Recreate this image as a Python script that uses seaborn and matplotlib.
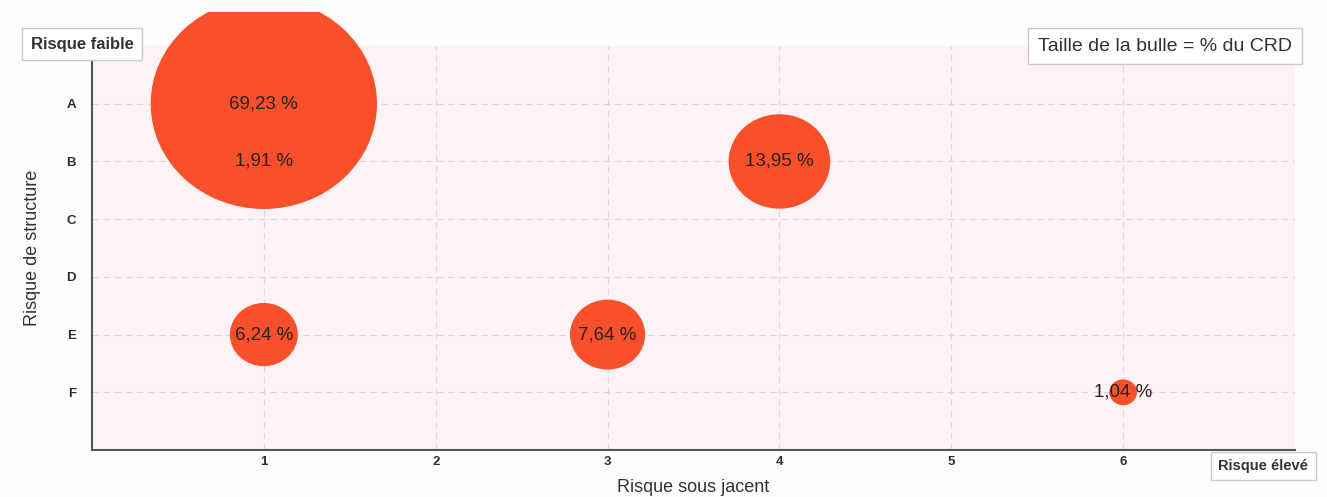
import matplotlib
matplotlib.use("Agg")
import matplotlib.pyplot as plt
import matplotlib.path as mpath
from matplotlib.patches import Rectangle
import seaborn as sns
import pandas as pd
import numpy as np

# ---- data ----
y_categories = ["A", "B", "C", "D", "E", "F"]
x_ticks = [1, 2, 3, 4, 5, 6]
sous_jacent = [1, 1, 4, 3, 1, 6]          # x: Risque sous jacent
structure = ["A", "B", "B", "E", "E", "F"]  # y: Risque de structure
crd_pct = [69.23, 1.91, 13.95, 7.64, 6.24, 1.04]

df = pd.DataFrame({
    "x": sous_jacent,
    "y": [y_categories.index(c) + 1 for c in structure],
    "v": crd_pct,
})
df["label"] = [f"{v:.2f}".replace(".", ",") + " %" for v in df["v"]]

sns.set_style("white")
plt.rcParams["font.family"] = ["Liberation Sans", "DejaVu Sans"]

fig = plt.figure(figsize=(13.27, 4.97), dpi=100, facecolor="#fefcfc")
ax = fig.add_axes([0.0693, 0.0946, 0.9066, 0.8128])
ax.set_facecolor("#fdf3f5")

# slightly elliptical bubble marker
circ = mpath.Path.unit_circle()
ell = mpath.Path(circ.vertices * np.array([1.0, 0.93]), circ.codes)

smax = 383.5 * max(crd_pct)
sns.scatterplot(data=df, x="x", y="y", size="v", sizes=(0, smax),
                size_norm=(0, max(crd_pct)), marker=ell, color="#f9502c",
                edgecolor="none", linewidth=0, alpha=1, legend=False, ax=ax,
                zorder=3)
clip_rect = Rectangle((0, 0), 1, 485 / 497, transform=fig.transFigure)
for c in ax.collections:
    c.set_clip_path(clip_rect)

for _, r in df.iterrows():
    ax.text(r["x"], r["y"], r["label"], ha="center", va="center",
            fontsize=13.5, color="#2b2020", zorder=5)

ax.set_xlim(0, 7)
ax.set_ylim(7, 0)
ax.set_xticks(x_ticks)
ax.set_xticklabels([str(t) for t in x_ticks], fontsize=9.5, fontweight="bold",
                   color="#2e2e2e")
ax.set_yticks(range(1, len(y_categories) + 1))
ax.set_yticklabels(y_categories, fontsize=9.5, fontweight="bold", color="#2e2e2e")
ax.tick_params(axis="x", length=0, pad=4)
ax.tick_params(axis="y", length=0, pad=11.5)

for t in x_ticks + [7]:
    ax.axvline(t, color="#dcd6da", lw=0.8, ls=(0, (6, 4)), zorder=1)
for t in range(1, 7):
    ax.axhline(t, color="#dcd6da", lw=0.8, ls=(0, (6, 4)), zorder=1)

for s in ["top", "right"]:
    ax.spines[s].set_visible(False)
for s in ["left", "bottom"]:
    ax.spines[s].set_color("#555555")
    ax.spines[s].set_linewidth(1.5)

ax.set_xlabel("Risque sous jacent", fontsize=13, color="#333333", labelpad=8)
ax.set_ylabel("Risque de structure", fontsize=13, color="#333333", labelpad=18)

box = dict(boxstyle="square,pad=0.5", facecolor="white", edgecolor="#cfc8d0",
           linewidth=1)
fig.text(0.0618, 0.911, "Risque faible", ha="center", va="center",
         fontsize=12, fontweight="bold", color="#333333", bbox=box)
fig.text(0.878, 0.907, "Taille de la bulle = % du CRD", ha="center",
         va="center", fontsize=14, color="#333333",
         bbox=dict(boxstyle="square,pad=0.5", facecolor="white",
                   edgecolor="#cfc8d0", linewidth=1))
fig.text(0.952, 0.0624, "Risque élevé", ha="center", va="center",
         fontsize=10.5, fontweight="bold", color="#333333", bbox=box)

fig.savefig("out.png", dpi=100, facecolor=fig.get_facecolor())
